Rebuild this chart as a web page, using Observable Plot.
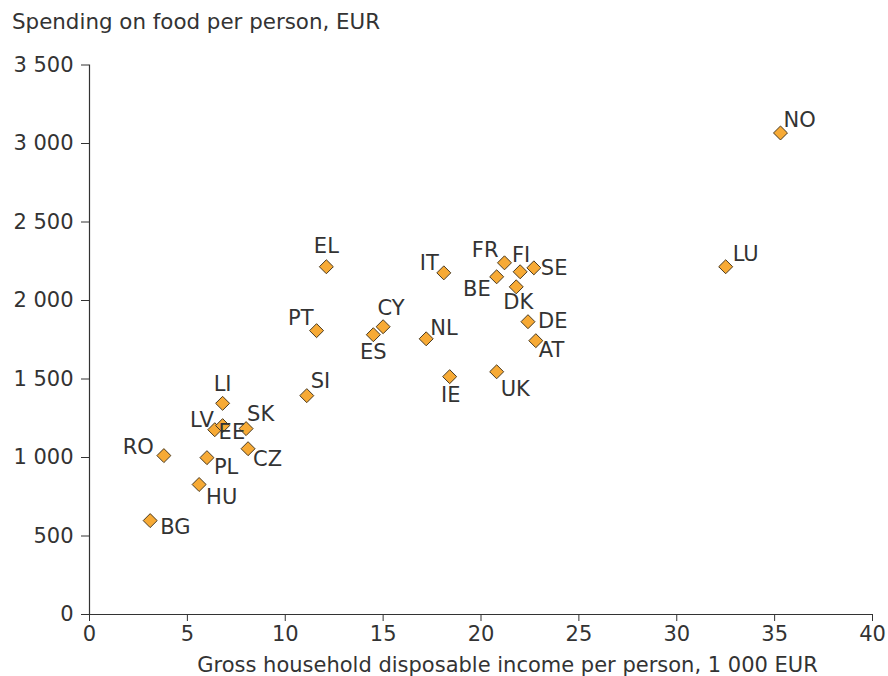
<!DOCTYPE html>
<html>
<head>
<meta charset="utf-8">
<script src="https://cdn.jsdelivr.net/npm/d3@7"></script>
<script src="https://cdn.jsdelivr.net/npm/@observablehq/plot@0.6"></script>
<style>
  html, body { margin: 0; padding: 0; background: #fff; }
  body { width: 888px; height: 676px; position: relative; overflow: hidden; font-family: "DejaVu Sans", Verdana, sans-serif; color: #333; }
  #chart { position: absolute; left: 0; top: 0; z-index: 0; }
  #title { position: absolute; left: 12px; top: 10px; font-size: 21.4px; line-height: 24px; white-space: nowrap; z-index: 1; }
</style>
</head>
<body>
<div id="chart"></div>
<div id="title">Spending on food per person, EUR</div>
<script>
const countries = ["NO","LU","EL","IT","FR","FI","SE","BE","DK","DE","AT","NL","IE","UK","CY","ES","PT","SI","LI","SK","LV","EE","CZ","RO","PL","HU","BG"];
const income = [35.3, 32.5, 12.1, 18.1, 21.2, 22.0, 22.7, 20.8, 21.8, 22.4, 22.8, 17.2, 18.4, 20.8, 15.0, 14.5, 11.6, 11.1, 6.8, 8.0, 6.4, 6.8, 8.1, 3.8, 6.0, 5.6, 3.1];
const spending = [3067, 2215, 2215, 2176, 2240, 2183, 2208, 2151, 2087, 1865, 1744, 1756, 1515, 1546, 1833, 1782, 1808, 1394, 1345, 1184, 1177, 1203, 1056, 1012, 999, 828, 598];
const xTicks = [0, 5, 10, 15, 20, 25, 30, 35, 40];
const yTicks = [0, 500, 1000, 1500, 2000, 2500, 3000, 3500];
const xTitle = "Gross household disposable income per person, 1 000 EUR";

// label placement (pixel offsets from the marker, and text anchor)
const labelPlacement = {
  NO: [3, -13, "start"], LU: [7, -12, "start"], EL: [0, -20, "middle"], IT: [-5, -10, "end"],
  FR: [-6, -13, "end"], FI: [1, -17, "middle"], SE: [7, 0, "start"], BE: [-6, 12, "end"],
  DK: [2, 15, "middle"], DE: [10, 0, "start"], AT: [3, 10, "start"], NL: [4, -11, "start"],
  IE: [1, 19, "middle"], UK: [4, 17, "start"], CY: [8, -18, "middle"], ES: [0, 18, "middle"],
  PT: [-3, -12, "end"], SI: [4, -14, "start"], LI: [0, -19, "middle"], SK: [1, -14, "start"],
  LV: [-1, -9, "end"], EE: [-4, 7, "start"], CZ: [5, 11, "start"], RO: [-10, -8, "end"],
  PL: [7, 10, "start"], HU: [7, 13, "start"], BG: [10, 7, "start"]
};

const data = countries.map((c, i) => ({country: c, income: income[i], spending: spending[i]}));
const fmt = d => d3.format(",")(d).replace(/,/g, " ");
const FS = 21;

const labelMarks = data.map(d => {
  const [dx, dy, anchor] = labelPlacement[d.country];
  return Plot.text([d], {x: "income", y: "spending", text: "country", dx, dy, textAnchor: anchor, fontSize: FS, fill: "#333"});
});

const plot = Plot.plot({
  width: 888,
  height: 676,
  marginTop: 64.5,
  marginBottom: 62,
  marginLeft: 89,
  marginRight: 16,
  style: {fontFamily: "'DejaVu Sans', Verdana, sans-serif", fontSize: FS + "px", color: "#333", background: "transparent", overflow: "visible"},
  x: {domain: [0, 40]},
  y: {domain: [0, 3500]},
  marks: [
    Plot.axisX({ticks: xTicks, tickSize: 7, tickPadding: 5, tickFormat: d => String(d), fontSize: FS, label: null}),
    Plot.axisY({ticks: yTicks, tickSize: 8, tickPadding: 8, tickFormat: fmt, fontSize: FS, label: null}),
    Plot.text([xTitle], {frameAnchor: "bottom", dx: 26.5, dy: 51, lineAnchor: "middle", fontSize: FS, fill: "#333"}),
    Plot.ruleX([0], {stroke: "#333", strokeWidth: 1.2}),
    Plot.ruleY([0], {stroke: "#333", strokeWidth: 1.2}),
    Plot.dot(data, {x: "income", y: "spending", symbol: "diamond2", r: 6.3, fill: "#F7AA35", stroke: "#4a3a20", strokeWidth: 1}),
    ...labelMarks
  ]
});
document.getElementById("chart").appendChild(plot);
</script>
</body>
</html>
